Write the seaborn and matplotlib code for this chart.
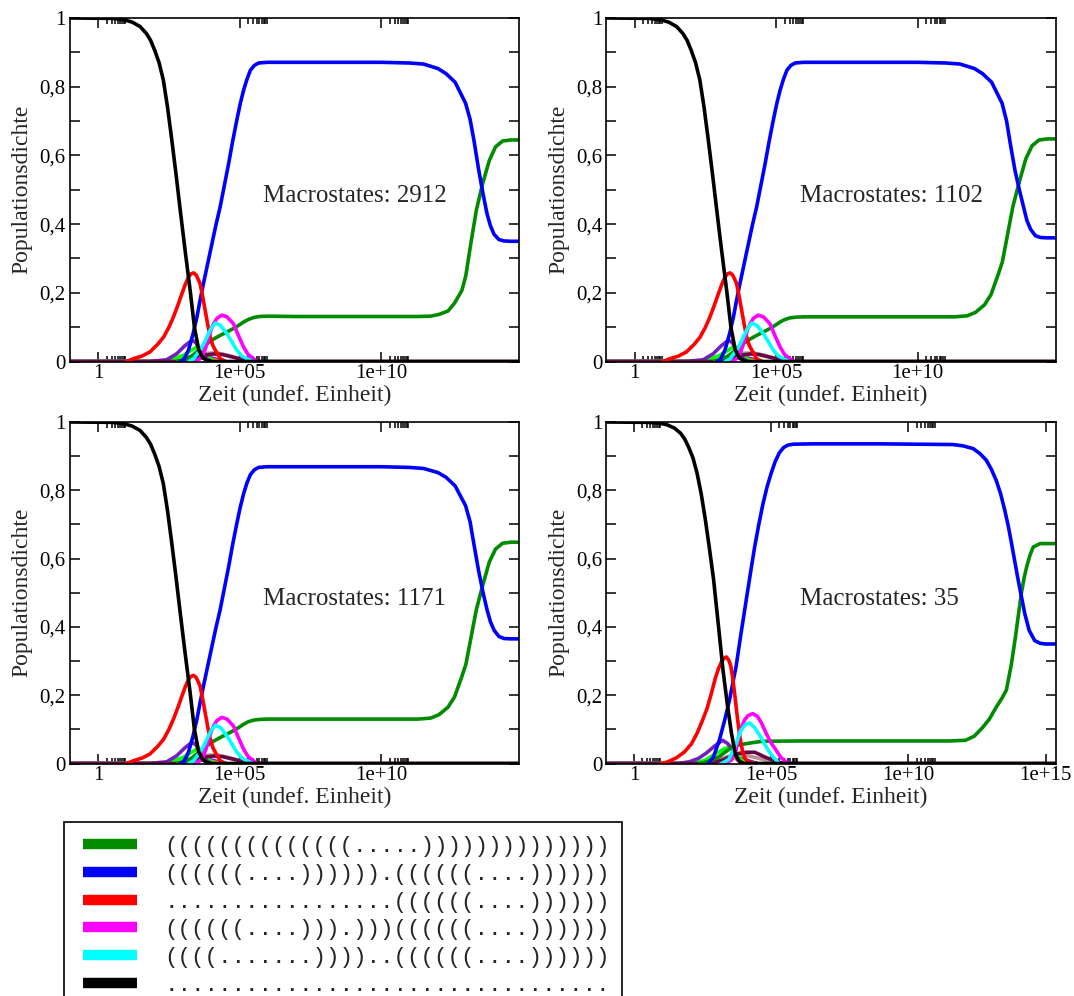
import numpy as np
import pandas as pd
import seaborn as sns
import matplotlib
matplotlib.use("Agg")
import matplotlib.pyplot as plt
from matplotlib.lines import Line2D
from matplotlib.patches import Rectangle
from matplotlib.ticker import NullFormatter

# black: unfolded state, decays first
BLACK_U = [-1.0, 0.5, 0.9, 1.2, 1.48, 1.7, 1.85, 2.0, 2.15, 2.3, 2.45, 2.6, 2.75, 2.9,
           3.07, 3.25, 3.4, 3.55, 3.7, 3.85, 4.0, 15.4]
BLACK_TL = [1.0, 0.999, 0.995, 0.988, 0.975, 0.955, 0.935, 0.905, 0.87, 0.82, 0.74, 0.645,
            0.545, 0.44, 0.324, 0.207, 0.1, 0.035, 0.01, 0.003, 0.0, 0.0]
BLACK_35 = [1.0, 0.999, 0.997, 0.992, 0.982, 0.967, 0.95, 0.925, 0.895, 0.85, 0.79, 0.715,
            0.63, 0.54, 0.41, 0.27, 0.175, 0.09, 0.025, 0.006, 0.0, 0.0]

# red: early intermediate
RED_U = [1.0, 1.24, 1.55, 1.83, 2.1, 2.31, 2.5, 2.66, 2.82, 2.96, 3.08, 3.19, 3.28, 3.37,
         3.46, 3.53, 3.6, 3.69, 3.78, 3.87, 3.96, 4.05, 4.14, 4.31, 4.5]
RED_TL = [0.0, 0.008, 0.016, 0.028, 0.05, 0.071, 0.1, 0.13, 0.165, 0.198, 0.225, 0.246,
          0.255, 0.258, 0.252, 0.24, 0.227, 0.19, 0.149, 0.108, 0.071, 0.047, 0.033, 0.008, 0.0]
RED_35 = [0.0, 0.005, 0.017, 0.033, 0.058, 0.09, 0.127, 0.16, 0.205, 0.248, 0.278, 0.298,
          0.308, 0.312, 0.302, 0.285, 0.25, 0.19, 0.127, 0.073, 0.035, 0.015, 0.006, 0.0, 0.0]

# blue: long lived intermediate
BLUE_U = [2.9, 3.01, 3.19, 3.35, 3.49, 3.6, 3.72, 3.87, 4.02, 4.16, 4.31, 4.46, 4.61, 4.75,
          4.9, 5.02, 5.14, 5.26, 5.38, 5.52, 5.67, 5.97, 6.5, 8.0, 10.0, 11.0, 11.5, 12.01,
          12.3, 12.62, 12.99, 13.15, 13.29, 13.45, 13.61, 13.75, 13.87, 14.0, 14.17, 14.35,
          14.58, 15.4]
BLUE_TL = [0.0, 0.003, 0.033, 0.08, 0.13, 0.178, 0.227, 0.285, 0.343, 0.397, 0.45, 0.513,
           0.576, 0.64, 0.703, 0.75, 0.79, 0.822, 0.848, 0.862, 0.869, 0.871, 0.871, 0.871,
           0.871, 0.869, 0.866, 0.853, 0.838, 0.813, 0.752, 0.705, 0.642, 0.56, 0.487, 0.43,
           0.395, 0.37, 0.355, 0.351, 0.35, 0.35]
BLUE_TR = [0.0, 0.003, 0.033, 0.08, 0.13, 0.178, 0.227, 0.285, 0.343, 0.397, 0.45, 0.513,
           0.576, 0.64, 0.703, 0.75, 0.79, 0.822, 0.848, 0.862, 0.869, 0.871, 0.871, 0.871,
           0.871, 0.869, 0.866, 0.853, 0.838, 0.813, 0.752, 0.7, 0.63, 0.555, 0.497, 0.45,
           0.41, 0.385, 0.366, 0.361, 0.36, 0.36]
BLUE_BL = [0.0, 0.003, 0.033, 0.08, 0.13, 0.178, 0.227, 0.285, 0.343, 0.397, 0.45, 0.513,
           0.576, 0.64, 0.703, 0.75, 0.79, 0.822, 0.846, 0.86, 0.867, 0.869, 0.869, 0.869,
           0.869, 0.867, 0.864, 0.852, 0.838, 0.813, 0.755, 0.708, 0.64, 0.565, 0.5, 0.45,
           0.415, 0.39, 0.372, 0.366, 0.365, 0.365]
BLUE35_U = [2.7, 2.9, 3.11, 3.3, 3.48, 3.6, 3.72, 3.9, 4.09, 4.25, 4.4, 4.55, 4.7, 4.85, 5.0,
            5.15, 5.3, 5.45, 5.6, 5.8, 6.5, 9.0, 11.63, 12.0, 12.36, 12.6, 12.84, 13.02, 13.2,
            13.36, 13.51, 13.64, 13.76, 13.88, 14.0, 14.12, 14.24, 14.4, 14.6, 14.8, 15.0, 15.4]
BLUE_35 = [0.0, 0.02, 0.068, 0.125, 0.185, 0.235, 0.283, 0.38, 0.478, 0.56, 0.635, 0.7, 0.76,
           0.81, 0.85, 0.885, 0.91, 0.925, 0.932, 0.935, 0.936, 0.936, 0.934, 0.93, 0.922,
           0.908, 0.888, 0.862, 0.829, 0.79, 0.742, 0.695, 0.644, 0.59, 0.537, 0.488, 0.439,
           0.39, 0.36, 0.352, 0.35, 0.35]

# green: native state
GREEN_U = [2.8, 3.1, 3.3, 3.49, 3.66, 3.84, 4.05, 4.31, 4.55, 4.78, 4.96, 5.14, 5.3, 5.49,
           5.7, 5.97, 7.0, 10.0, 11.3, 11.76, 12.05, 12.37, 12.6, 12.86, 13.0, 13.15, 13.37,
           13.6, 13.83, 14.05, 14.3, 14.6, 15.4]
GREEN_TL = [0.0, 0.008, 0.016, 0.028, 0.04, 0.052, 0.064, 0.076, 0.086, 0.096, 0.105, 0.115,
            0.122, 0.128, 0.131, 0.132, 0.131, 0.131, 0.131, 0.132, 0.137, 0.147, 0.17, 0.207,
            0.25, 0.33, 0.44, 0.52, 0.585, 0.625, 0.642, 0.645, 0.645]
GREEN_TR = [0.0, 0.008, 0.016, 0.028, 0.04, 0.052, 0.064, 0.076, 0.086, 0.096, 0.105, 0.115,
            0.122, 0.127, 0.129, 0.13, 0.13, 0.13, 0.13, 0.133, 0.143, 0.165, 0.195, 0.255,
            0.29, 0.355, 0.45, 0.523, 0.59, 0.628, 0.645, 0.648, 0.648]
GREEN35_U = [2.4, 2.8, 3.1, 3.35, 3.6, 3.85, 4.09, 4.4, 4.69, 6.0, 9.0, 11.5, 12.08, 12.4,
             12.7, 12.95, 13.2, 13.4, 13.57, 13.75, 13.9, 14.0, 14.12, 14.22, 14.31, 14.43,
             14.55, 14.8, 15.4]
GREEN_35 = [0.0, 0.008, 0.02, 0.035, 0.049, 0.055, 0.058, 0.062, 0.065, 0.066, 0.066, 0.066,
            0.068, 0.08, 0.105, 0.13, 0.165, 0.19, 0.215, 0.29, 0.37, 0.43, 0.5, 0.545, 0.576,
            0.61, 0.634, 0.644, 0.644]

# magenta and cyan: later intermediates
MAGENTA_U = [3.4, 3.6, 3.72, 3.82, 3.9, 4.0, 4.08, 4.2, 4.37, 4.55, 4.78, 4.96, 5.14, 5.3,
             5.49, 5.61]
MAGENTA_TL = [0.0, 0.008, 0.023, 0.045, 0.071, 0.095, 0.11, 0.126, 0.135, 0.13, 0.11, 0.075,
              0.042, 0.02, 0.008, 0.0]
MAGENTA35_U = [3.3, 3.55, 3.72, 3.84, 3.94, 4.03, 4.15, 4.33, 4.5, 4.65, 4.82, 5.0, 5.18,
               5.35, 5.55, 5.7]
MAGENTA_35 = [0.0, 0.01, 0.04, 0.088, 0.11, 0.127, 0.14, 0.146, 0.138, 0.118, 0.088, 0.06,
              0.039, 0.018, 0.005, 0.0]
CYAN_U = [3.2, 3.37, 3.6, 3.72, 3.84, 3.98, 4.14, 4.32, 4.55, 4.72, 4.9, 5.08, 5.26, 5.45]
CYAN_TL = [0.0, 0.008, 0.033, 0.05, 0.071, 0.095, 0.112, 0.105, 0.081, 0.058, 0.033, 0.016,
           0.008, 0.0]
CYAN35_U = [3.2, 3.45, 3.6, 3.72, 3.9, 4.05, 4.21, 4.4, 4.55, 4.69, 4.88, 5.06, 5.3]
CYAN_35 = [0.0, 0.012, 0.035, 0.058, 0.097, 0.113, 0.119, 0.105, 0.086, 0.068, 0.04, 0.02, 0.0]

# small populations near the bottom
INDIGO_U = [-1.0, 1.8, 2.42, 2.78, 3.05, 3.31, 3.45, 3.6, 3.84, 4.0]
INDIGO_TL = [0.0, 0.0, 0.005, 0.023, 0.045, 0.062, 0.055, 0.033, 0.008, 0.0]
INDIGO35_U = [-1.0, 1.6, 2.02, 2.35, 2.63, 2.95, 3.23, 3.42, 3.6, 3.78, 3.95]
INDIGO_35 = [0.0, 0.0, 0.005, 0.015, 0.03, 0.052, 0.068, 0.058, 0.04, 0.01, 0.0]
LIME_U = [-1.0, 2.2, 2.6, 3.01, 3.3, 3.49, 3.6, 3.72, 3.96, 4.1]
LIME_TL = [0.0, 0.0, 0.006, 0.018, 0.033, 0.042, 0.04, 0.028, 0.008, 0.0]
LIME_35 = [0.0, 0.0, 0.01, 0.03, 0.043, 0.049, 0.045, 0.028, 0.005, 0.0]
ROSY_U = [-1.0, 2.5, 3.0, 3.4, 3.8, 4.2, 4.6, 5.0, 5.4]
ROSY_TL = [0.0, 0.0, 0.006, 0.015, 0.024, 0.025, 0.018, 0.008, 0.0]
ROSY_35 = [0.0, 0.0, 0.008, 0.02, 0.025, 0.022, 0.014, 0.005, 0.0]
ORANGE_U = [-1.0, 2.3, 2.8, 3.2, 3.5, 3.8, 4.1, 4.4]
ORANGE_TL = [0.0, 0.0, 0.006, 0.012, 0.014, 0.01, 0.004, 0.0]
ORANGE_35 = [0.0, 0.0, 0.008, 0.015, 0.018, 0.012, 0.004, 0.0]
VIOLET_U = [-1.0, 2.6, 3.2, 3.6, 4.0, 4.5]
VIOLET_TL = [0.0, 0.0, 0.01, 0.016, 0.01, 0.0]
VIOLET_35 = [0.0, 0.0, 0.012, 0.02, 0.012, 0.0]
MAROON_U = [-1.0, 2.8, 3.3, 3.7, 4.1, 4.4, 4.8, 5.2, 5.5, 15.4]
MAROON_TL = [0.0, 0.0, 0.008, 0.018, 0.022, 0.02, 0.012, 0.004, 0.0, 0.0]
MAROON_35 = [0.0, 0.0, 0.012, 0.028, 0.033, 0.033, 0.018, 0.005, 0.0, 0.0]

MACROSTATES = ["2912", "1102", "1171", "35"]
X_MAX_LOG = [14.88, 14.88, 14.88, 15.36]

COLORS = {
    "green": "#008b00", "blue": "#0000ff", "red": "#ff0000", "magenta": "#ff00ff",
    "cyan": "#00ffff", "black": "#000000", "indigo": "#7221bc", "lime": "#00ff00",
    "rosy": "#bc8f8f", "orange": "#ffa500", "violet": "#9400d3", "maroon": "#670748",
}

LEGEND_KEYS = ["green", "blue", "red", "magenta", "cyan", "black"]
LEGEND_LABELS = [
    "((((((((((((((.....))))))))))))))",
    "((((((....)))))).((((((....))))))",
    ".................((((((....))))))",
    "((((((....))).)))((((((....))))))",
    "((((.......))))..((((((....))))))",
    ".................................",
]


def small_curves(which):
    if which == "35":
        return [("violet", VIOLET_U, VIOLET_35), ("orange", ORANGE_U, ORANGE_35),
                ("rosy", ROSY_U, ROSY_35), ("lime", LIME_U, LIME_35),
                ("indigo", INDIGO35_U, INDIGO_35), ("maroon", MAROON_U, MAROON_35)]
    return [("violet", VIOLET_U, VIOLET_TL), ("orange", ORANGE_U, ORANGE_TL),
            ("rosy", ROSY_U, ROSY_TL), ("lime", LIME_U, LIME_TL),
            ("indigo", INDIGO_U, INDIGO_TL), ("maroon", MAROON_U, MAROON_TL)]


PANEL_CURVES = [
    small_curves("tl") + [("green", GREEN_U, GREEN_TL), ("blue", BLUE_U, BLUE_TL),
                          ("red", RED_U, RED_TL), ("magenta", MAGENTA_U, MAGENTA_TL),
                          ("cyan", CYAN_U, CYAN_TL), ("black", BLACK_U, BLACK_TL)],
    small_curves("tr") + [("green", GREEN_U, GREEN_TR), ("blue", BLUE_U, BLUE_TR),
                          ("red", RED_U, RED_TL), ("magenta", MAGENTA_U, MAGENTA_TL),
                          ("cyan", CYAN_U, CYAN_TL), ("black", BLACK_U, BLACK_TL)],
    small_curves("bl") + [("green", GREEN_U, GREEN_TR), ("blue", BLUE_U, BLUE_BL),
                          ("red", RED_U, RED_TL), ("magenta", MAGENTA_U, MAGENTA_TL),
                          ("cyan", CYAN_U, CYAN_TL), ("black", BLACK_U, BLACK_TL)],
    small_curves("35") + [("green", GREEN35_U, GREEN_35), ("blue", BLUE35_U, BLUE_35),
                          ("red", RED_U, RED_35), ("magenta", MAGENTA35_U, MAGENTA_35),
                          ("cyan", CYAN35_U, CYAN_35), ("black", BLACK_U, BLACK_35)],
]

W, H = 1074, 996
# axes boxes in pixels: left, top, right, bottom
BOXES = [(70, 18, 519, 361.5), (606.5, 18, 1055.5, 361.5),
         (70, 422, 519, 763.5), (606.5, 422, 1055.5, 763.5)]

sns.set_theme(style="ticks")
plt.rcParams["font.family"] = ["Liberation Serif", "DejaVu Serif"]
plt.rcParams["axes.edgecolor"] = "black"
plt.rcParams["axes.linewidth"] = 1.2
plt.rcParams["xtick.color"] = "black"
plt.rcParams["ytick.color"] = "black"

fig = plt.figure(figsize=(W / 100, H / 100), dpi=100)
fig.patch.set_facecolor("white")


def draw_panel(ax, curves, macro, xmax_log):
    frames = []
    for name, u, p in curves:
        frames.append(pd.DataFrame({"t": 10.0 ** np.asarray(u), "p": p, "state": name}))
    df = pd.concat(frames, ignore_index=True)
    order = [c[0] for c in curves]
    ax.set_xscale("log")
    sns.lineplot(data=df, x="t", y="p", hue="state", hue_order=order, palette=COLORS,
                 linewidth=2.6, estimator=None, sort=False, legend=False, ax=ax)

    ax.set_xlim(10 ** -1.0, 10 ** xmax_log)
    ax.set_ylim(0, 1)
    majors = [1, 1e5, 1e10, 1e15]
    labels = ["1", "1e+05", "1e+10", "1e+15"]
    keep = [i for i, m in enumerate(majors) if m <= 10 ** xmax_log]
    ax.set_xticks([majors[i] for i in keep], [labels[i] for i in keep])
    minors = [k * m for m in (1, 1e5, 1e10) for k in range(2, 10)]
    ax.set_xticks(minors, minor=True)
    ax.xaxis.set_minor_formatter(NullFormatter())
    ax.set_yticks([0, 0.2, 0.4, 0.6, 0.8, 1.0], ["0", "0,2", "0,4", "0,6", "0,8", "1"])
    ax.set_yticks([0.1, 0.3, 0.5, 0.7, 0.9], minor=True)

    ax.tick_params(axis="both", which="both", direction="in", top=True, right=True,
                   width=1.1, labelsize=15)
    ax.tick_params(axis="x", which="major", length=7.5, pad=2)
    ax.tick_params(axis="x", which="minor", length=4)
    ax.tick_params(axis="y", which="both", length=7.5, pad=3)

    ax.set_xlabel("Zeit (undef. Einheit)", fontsize=17, labelpad=1)
    ax.set_ylabel("Populationsdichte", fontsize=17, labelpad=5)
    ax.text(0.43, 0.463, f"Macrostates: {macro}", transform=ax.transAxes,
            fontsize=18, ha="left", va="baseline")
    for s in ax.spines.values():
        s.set_color("black")
        s.set_linewidth(1.2)


for (l, t, r, b), curves, macro, xm in zip(BOXES, PANEL_CURVES, MACROSTATES, X_MAX_LOG):
    ax = fig.add_axes([l / W, 1 - b / H, (r - l) / W, (b - t) / H])
    ax.set_facecolor("white")
    draw_panel(ax, curves, macro, xm)

# legend with secondary structures, frame runs off the bottom of the figure
handles = [Line2D([], [], color=COLORS[k], lw=7.5, solid_capstyle="butt") for k in LEGEND_KEYS]
fig.legend(handles, LEGEND_LABELS, loc="upper left", bbox_to_anchor=(83 / W, 1 - 836 / H),
           frameon=False, borderpad=0, borderaxespad=0, handlelength=2.42,
           handletextpad=1.2, labelspacing=0.3,
           prop={"family": "Liberation Mono", "size": 16.2})
fig.add_artist(Rectangle((64 / W, -0.05), (622 - 64) / W, (1 - 822 / H) + 0.05,
                         transform=fig.transFigure, fill=False, edgecolor="black",
                         linewidth=1.2))

fig.savefig("out.png", dpi=100, facecolor="white")
